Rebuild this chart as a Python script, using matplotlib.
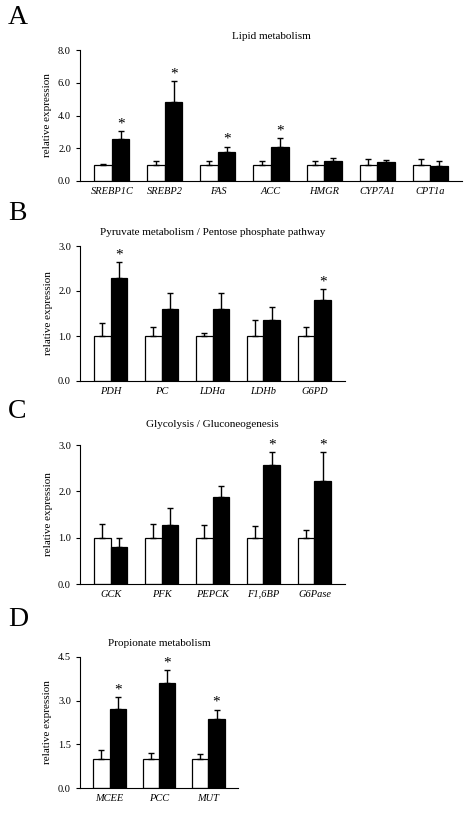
import matplotlib
matplotlib.use("Agg")
import matplotlib.pyplot as plt
from matplotlib.ticker import FormatStrFormatter

plt.rcParams['font.family'] = ['Liberation Serif', 'DejaVu Serif']

a_genes = ["SREBP1C", "SREBP2", "FAS", "ACC", "HMGR", "CYP7A1", "CPT1a"]
a_ctrl = [1, 1, 1, 1, 1, 1, 1]
a_ctrl_err = [0.05, 0.2, 0.2, 0.25, 0.25, 0.35, 0.35]
a_trt = [2.55, 4.85, 1.8, 2.1, 1.2, 1.15, 0.9]
a_trt_err = [0.5, 1.25, 0.3, 0.5, 0.2, 0.12, 0.3]
a_star = [1, 1, 1, 1, 0, 0, 0]

b_genes = ["PDH", "PC", "LDHa", "LDHb", "G6PD"]
b_ctrl = [1, 1, 1, 1, 1]
b_ctrl_err = [0.3, 0.2, 0.07, 0.35, 0.2]
b_trt = [2.3, 1.6, 1.6, 1.35, 1.8]
b_trt_err = [0.35, 0.35, 0.35, 0.3, 0.25]
b_star = [1, 0, 0, 0, 1]

c_genes = ["GCK", "PFK", "PEPCK", "F1,6BP", "G6Pase"]
c_ctrl = [1, 1, 1, 1, 1]
c_ctrl_err = [0.3, 0.3, 0.27, 0.25, 0.17]
c_trt = [0.8, 1.27, 1.87, 2.57, 2.22]
c_trt_err = [0.2, 0.38, 0.25, 0.28, 0.62]
c_star = [0, 0, 0, 1, 1]

d_genes = ["MCEE", "PCC", "MUT"]
d_ctrl = [1, 1, 1]
d_ctrl_err = [0.3, 0.2, 0.17]
d_trt = [2.73, 3.6, 2.37]
d_trt_err = [0.4, 0.45, 0.32]
d_star = [1, 1, 1]

W, H = 474, 814
fig = plt.figure(figsize=(4.74, 8.14), dpi=100)

def panel(letter, title, genes, c, ce, t, te, st, ymax, step, x0, x1, ytop, ybot, ly, tpad):
    ax = fig.add_axes([x0 / W, 1 - ybot / H, (x1 - x0) / W, (ybot - ytop) / H])
    n = len(genes)
    xs = list(range(n))
    w = 0.33
    xc = [x - w / 2 for x in xs]
    xt = [x + w / 2 for x in xs]
    ek = dict(ecolor='black', elinewidth=1, capsize=2.5, capthick=1)
    ax.bar(xc, c, w, color='white', edgecolor='black', linewidth=0.9,
           yerr=[[0] * n, ce], error_kw=ek)
    ax.bar(xt, t, w, color='black', edgecolor='black', linewidth=0.9,
           yerr=[[0] * n, te], error_kw=ek)
    for i in range(n):
        if st[i]:
            ax.text(xt[i], t[i] + te[i] + ymax * 0.005, "*", ha='center', va='bottom', fontsize=11)
    ax.set_xlim(-0.6, n - 0.4)
    ax.set_ylim(0, ymax)
    ax.set_yticks([step * k for k in range(int(round(ymax / step)) + 1)])
    ax.yaxis.set_major_formatter(FormatStrFormatter('%.1f'))
    ax.set_xticks(xs)
    ax.set_xticklabels(genes, fontstyle='italic', fontsize=7.5)
    ax.tick_params(axis='x', length=0, pad=4)
    ax.tick_params(axis='y', labelsize=7.5, length=3, direction='out')
    for s in ['top', 'right']:
        ax.spines[s].set_visible(False)
    ax.set_ylabel("relative expression", fontsize=8)
    ax.set_title(title, fontsize=8, pad=tpad)
    fig.text(8 / W, 1 - ly / H, letter, fontsize=20, va='center', ha='left')
    return ax

panel("A", "Lipid metabolism", a_genes, a_ctrl, a_ctrl_err, a_trt, a_trt_err, a_star,
      8.0, 2.0, 80, 462, 50, 181, 18, 8)
panel("B", "Pyruvate metabolism / Pentose phosphate pathway", b_genes, b_ctrl, b_ctrl_err,
      b_trt, b_trt_err, b_star, 3.0, 1.0, 80, 345, 246, 381, 213, 8)
panel("C", "Glycolysis / Gluconeogenesis", c_genes, c_ctrl, c_ctrl_err, c_trt, c_trt_err,
      c_star, 3.0, 1.0, 80, 345, 445, 584, 411, 13)
panel("D", "Propionate metabolism", d_genes, d_ctrl, d_ctrl_err, d_trt, d_trt_err, d_star,
      4.5, 1.5, 80, 238, 657, 788, 620, 8)

fig.savefig("out.png", dpi=100)
